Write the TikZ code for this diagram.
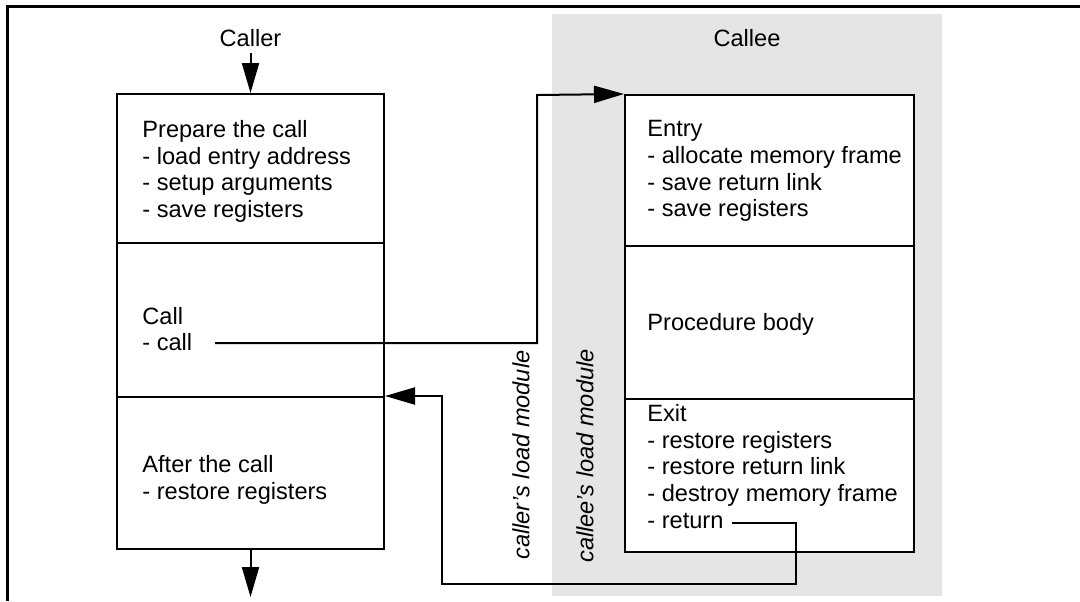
\documentclass[tikz,border=0pt]{standalone}
\usepackage{fontspec}
\setmainfont{Liberation Sans}
\usepackage{tikz}
\usetikzlibrary{arrows.meta}
\usetikzlibrary{calc}
\definecolor{calleegray}{HTML}{E5E5E5}

\begin{document}
\begin{tikzpicture}[x=0.5pt,y=-0.5pt,font=\fontsize{11.8}{13.35}\selectfont]
\tikzstyle{sect} = [draw, line width=1pt, fill=white, inner sep=0pt]
\tikzstyle{lines} = [anchor=north west, inner sep=0pt, align=left]
\tikzstyle{conn} = [line width=1pt]
\tikzstyle{head} = [-{Triangle[length=15pt,width=8.5pt]}]
\useasboundingbox (0,0) rectangle (1080,601);
\fill[calleegray] (552,14) rectangle (942,596);
\draw[line width=1.5pt] (7,601) -- (7,6) -- (1080,6);
% caller side
\node[inner sep=3pt](caller) at (250.5,38) {Caller};
\node[sect, minimum width=133.5pt, minimum height=74.5pt](prep) at (250.5,168.5) {};
\node[sect, minimum width=133.5pt, minimum height=77pt](callsec) at (250.5,320) {};
\node[sect, minimum width=133.5pt, minimum height=76pt](after) at (250.5,473) {};
\node[lines](preptxt) at (142,120) {Prepare the call\\- load entry address\\- setup arguments\\- save registers};
\node[lines](calltxt) at (142,306.5) {Call\\- call};
\node[lines](aftertxt) at (142,455) {After the call\\- restore registers};
% callee side
\node(callee) at (747,38) {Callee};
\node[sect, minimum width=144.5pt, minimum height=75.5pt](entry) at (769.5,170.5) {};
\node[sect, minimum width=144.5pt, minimum height=76.5pt](body) at (769.5,322.5) {};
\node[sect, minimum width=144.5pt, minimum height=76.5pt](exit) at (769.5,475.5) {};
\node[lines](entrytxt) at (647,120) {Entry\\- allocate memory frame\\- save return link\\- save registers};
\node[lines](bodytxt) at (647,313) {Procedure body};
\node[lines](exittxt) at (647,404) {Exit\\- restore registers\\- restore return link\\- destroy memory frame\\- return};
\node[rotate=90, font=\itshape\fontsize{11.8}{13.35}\selectfont](callermod) at (521,455) {caller’s load module};
\node[rotate=90, font=\itshape\fontsize{11.8}{13.35}\selectfont](calleemod) at (585,456) {callee’s load module};
\coordinate(callout) at (215,343);
\coordinate(callup) at (537,95);
\coordinate(retout) at (732,523);
\coordinate(retdown) at (796,584);
\coordinate(retleft) at (442,584);
\coordinate(leave) at (250.5,597);
\draw[conn,head] (caller.south) -- (prep.north);
\draw[conn,head] (callout) -| (callup) -- (entry.north west);
\draw[conn,head] (retout) -| (retdown) -- (retleft) |- (after.north east);
\draw[conn,head] (after.south) -- (leave);
\end{tikzpicture}
\end{document}
